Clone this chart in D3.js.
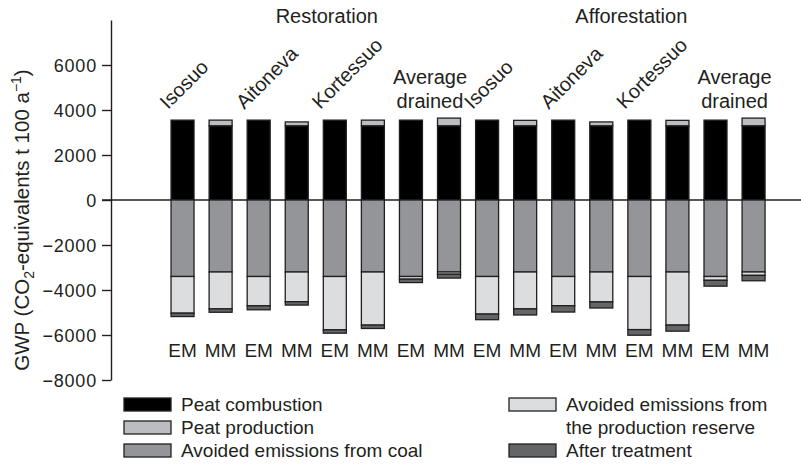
<!DOCTYPE html>
<meta charset="utf-8">
<script src="https://d3js.org/d3.v7.min.js"></script>
<style>
body { margin: 0; background: #fff; }
text { font-family: "Liberation Sans", Arial, sans-serif; fill: #231f20; }
.axis text { font-size: 18px; letter-spacing: 0.8px; }
.axis path, .axis line { stroke: #231f20; stroke-width: 1.4px; }
.bar rect { stroke: #231f20; stroke-width: 1.3px; }
</style>
<body>
<div id="chart"></div>
<script>
var treatments = ["Restoration", "Afforestation"];
var sites = ["Isosuo", "Aitoneva", "Kortessuo", "Average drained"];
var methods = ["EM", "MM"];

// one value per bar: Restoration (Isosuo EM, MM, Aitoneva EM, MM, ...), then Afforestation
var peatCombustion = [3550, 3300, 3550, 3300, 3550, 3300, 3550, 3300, 3550, 3300, 3550, 3300, 3550, 3300, 3550, 3300];
var peatProduction = [0, 250, 0, 170, 0, 250, 0, 340, 0, 240, 0, 170, 0, 240, 0, 340];
var avoidedCoal = [-3400, -3200, -3400, -3200, -3400, -3200, -3400, -3200, -3400, -3200, -3400, -3200, -3400, -3200, -3400, -3200];
var avoidedReserve = [-1630, -1640, -1300, -1320, -2370, -2360, -120, -100, -1670, -1640, -1300, -1330, -2360, -2360, -170, -150];
var afterTreatment = [-150, -150, -180, -150, -150, -150, -150, -170, -250, -270, -280, -270, -250, -270, -260, -240];

var yTicks = [-8000, -6000, -4000, -2000, 0, 2000, 4000, 6000];

var keys = ["combustion", "production", "coal", "reserve", "after"];
var labels = {
  combustion: "Peat combustion",
  production: "Peat production",
  coal: "Avoided emissions from coal",
  reserve: ["Avoided emissions from", "the production reserve"],
  after: "After treatment"
};
var colors = {
  combustion: "#000000",
  production: "#bcbdc0",
  coal: "#939598",
  reserve: "#dcdddf",
  after: "#646567"
};

var rows = [];
treatments.forEach(function(t) {
  sites.forEach(function(s) {
    methods.forEach(function(m) {
      var i = rows.length;
      rows.push({
        id: t + "|" + s + "|" + m, treatment: t, site: s, method: m,
        combustion: peatCombustion[i], production: peatProduction[i],
        coal: avoidedCoal[i], reserve: avoidedReserve[i], after: afterTreatment[i]
      });
    });
  });
});

var width = 801, height = 468;

var svg = d3.select("#chart").append("svg")
    .attr("width", width)
    .attr("height", height);

var x = d3.scaleBand()
    .domain(rows.map(function(d) { return d.id; }))
    .range([163.5, 772.6])
    .paddingInner(0.396)
    .paddingOuter(0.198);

var y = d3.scaleLinear().domain([-8000, 8000]).range([380, 20]);

var series = d3.stack().keys(keys).offset(d3.stackOffsetDiverging)(rows);

// y axis
svg.append("g")
    .attr("class", "axis")
    .attr("transform", "translate(111,0)")
    .call(d3.axisLeft(y).tickValues(yTicks).tickFormat(d3.format("d"))
      .tickSize(9).tickSizeOuter(0).tickPadding(5))
  .selectAll("text")
    .attr("dy", "0.36em");

// zero line
svg.append("line")
    .attr("x1", 102).attr("x2", 801)
    .attr("y1", y(0)).attr("y2", y(0))
    .attr("stroke", "#231f20").attr("stroke-width", 1.4);

svg.append("g").selectAll("g")
  .data(series)
  .enter().append("g")
    .attr("class", "bar")
    .attr("fill", function(d) { return colors[d.key]; })
  .selectAll("rect")
  .data(function(d) { return d.filter(function(p) { return p[1] !== p[0]; }); })
  .enter().append("rect")
    .attr("x", function(d) { return x(d.data.id); })
    .attr("width", x.bandwidth())
    .attr("y", function(d) { return y(Math.max(d[0], d[1])); })
    .attr("height", function(d) { return Math.abs(y(d[0]) - y(d[1])); });

// EM / MM labels
svg.append("g").selectAll("text")
  .data(rows)
  .enter().append("text")
    .attr("x", function(d) { return x(d.id) + x.bandwidth() / 2; })
    .attr("y", 357)
    .attr("text-anchor", "middle")
    .style("font-size", "19px")
    .text(function(d) { return d.method; });

// site labels
treatments.forEach(function(t) {
  sites.forEach(function(s) {
    var x0 = x(t + "|" + s + "|EM"), x1 = x(t + "|" + s + "|MM") + x.bandwidth();
    if (s === "Average drained") {
      var tx = svg.append("text")
          .attr("text-anchor", "middle")
          .style("font-size", "20px");
      tx.append("tspan").attr("x", (x0 + x1) / 2).attr("y", 84).text("Average");
      tx.append("tspan").attr("x", (x0 + x1) / 2).attr("y", 108).text("drained");
    } else {
      svg.append("text")
          .attr("transform", "translate(" + (x0 - 3) + ",110) rotate(-45)")
          .style("font-size", "20px")
          .text(s);
    }
  });
  var g0 = x(t + "|Isosuo|EM"), g1 = x(t + "|Average drained|MM") + x.bandwidth();
  svg.append("text")
      .attr("x", (g0 + g1) / 2 + 11)
      .attr("y", 23)
      .attr("text-anchor", "middle")
      .style("font-size", "20px")
      .text(t);
});

// y axis title
var yt = svg.append("text")
    .attr("transform", "translate(29,220) rotate(-90)")
    .attr("text-anchor", "middle")
    .style("font-size", "20.5px");
yt.append("tspan").text("GWP (CO");
yt.append("tspan").attr("dy", 5).style("font-size", "14px").text("2");
yt.append("tspan").attr("dy", -5).text("-equivalents t 100 a");
yt.append("tspan").attr("dy", -8).style("font-size", "14px").text("\u22121");
yt.append("tspan").attr("dy", 8).text(")");

// legend
var legendItems = [
  { key: "combustion", col: 0, row: 0 },
  { key: "production", col: 0, row: 1 },
  { key: "coal", col: 0, row: 2 },
  { key: "reserve", col: 1, row: 0 },
  { key: "after", col: 1, row: 2 }
];
var legend = svg.append("g").selectAll("g")
  .data(legendItems)
  .enter().append("g")
    .attr("transform", function(d) { return "translate(" + [124, 509][d.col] + "," + (398 + d.row * 23) + ")"; });

legend.append("rect")
    .attr("width", 47).attr("height", 13)
    .attr("fill", function(d) { return colors[d.key]; })
    .attr("stroke", "#231f20").attr("stroke-width", 1.3);

legend.each(function(d) {
  var lines = [].concat(labels[d.key]);
  var g = d3.select(this);
  lines.forEach(function(l, i) {
    g.append("text")
        .attr("x", 57)
        .attr("y", 13 + i * 23)
        .style("font-size", "19px")
        .text(l);
  });
});
</script>
</body>
